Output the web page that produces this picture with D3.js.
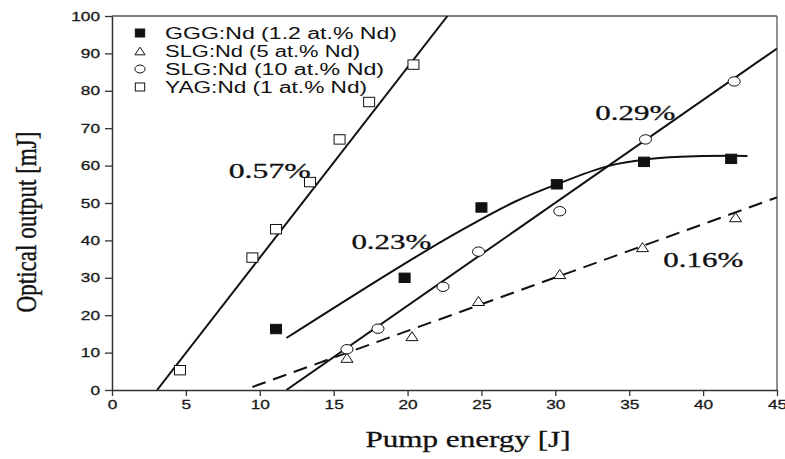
<!DOCTYPE html>
<html>
<head>
<meta charset="utf-8">
<script src="https://cdn.jsdelivr.net/npm/d3@7"></script>
<style>
  body { margin: 0; background: #fff; }
  svg { display: block; }
  .tick text { font-family: "Liberation Sans", Arial, sans-serif; font-size: 12.5px; fill: #1a1a1a; }
</style>
</head>
<body>
<svg id="chart" width="785" height="459"></svg>
<script>
// ---- data ----
const xTicks = [0, 5, 10, 15, 20, 25, 30, 35, 40, 45];
const yTicks = [0, 10, 20, 30, 40, 50, 60, 70, 80, 90, 100];

const gggPts   = [[11.1, 16.3], [19.8, 30.0], [25.0, 48.8], [30.1, 55.0], [36.0, 61.0], [41.9, 61.8]];
const slg5Pts  = [[15.9, 8.6], [20.3, 14.4], [24.8, 23.8], [30.3, 31.0], [35.9, 38.2], [42.2, 46.2]];
const slg10Pts = [[15.9, 10.9], [18.0, 16.4], [22.4, 27.6], [24.8, 37.0], [30.3, 47.8], [36.1, 67.0], [42.1, 82.5]];
const yagPts   = [[4.6, 5.3], [9.5, 35.4], [11.1, 43.0], [13.4, 55.6], [15.4, 67.0], [17.4, 77.0], [20.4, 87.0]];

// fit lines / curve
const gggFit   = [[11.8, 13.9], [19.4, 32.8], [23.5, 42.4], [27.3, 50.4], [30.1, 55.0], [33.5, 59.8], [36.5, 61.8], [39.5, 62.5], [43, 62.6]];
const slg5Fit  = [[9.5, 0.8], [45, 51.5]];
const slg10Fit = [[11.8, 0], [45, 91.3]];
const yagFit   = [[3.05, 0], [22.7, 100]];

const legendItems = [
  { name: "GGG:Nd (1.2 at.% Nd)", shape: "fsquare", len: 232 },
  { name: "SLG:Nd (5 at.% Nd)",   shape: "triangle", len: 195 },
  { name: "SLG:Nd (10 at.% Nd)",  shape: "circle",   len: 219 },
  { name: "YAG:Nd (1 at.% Nd)",   shape: "square",   len: 202 }
];

const slopeLabels = [
  { text: "0.57%", x: 7.9,  y: 56.8, len: 82 },
  { text: "0.29%", x: 32.7, y: 72.3, len: 80 },
  { text: "0.23%", x: 16.2, y: 37.8, len: 80 },
  { text: "0.16%", x: 37.3, y: 33.0, len: 80 }
];

// ---- scales ----
const svg = d3.select("#chart");
const x = d3.scaleLinear().domain([0, 45]).range([112, 777]);
const y = d3.scaleLinear().domain([0, 100]).range([390, 16]);

svg.append("defs").append("clipPath").attr("id", "plot-clip")
  .append("rect")
  .attr("x", x(0)).attr("y", y(100))
  .attr("width", x(45) - x(0)).attr("height", y(0) - y(100));

// frame top / right
svg.append("line")
  .attr("x1", x(0)).attr("x2", x(45)).attr("y1", y(100)).attr("y2", y(100))
  .attr("stroke", "#555").attr("stroke-width", 1.3);
svg.append("line")
  .attr("x1", x(45)).attr("x2", x(45)).attr("y1", y(100)).attr("y2", y(0))
  .attr("stroke", "#555").attr("stroke-width", 1.3);

// axes
const xAxis = svg.append("g")
  .attr("transform", `translate(0,${y(0)})`)
  .call(d3.axisBottom(x).tickValues(xTicks).tickSize(6).tickPadding(4).tickSizeOuter(0));
const yAxis = svg.append("g")
  .attr("transform", `translate(${x(0)},0)`)
  .call(d3.axisLeft(y).tickValues(yTicks).tickSize(7).tickPadding(5).tickSizeOuter(0));

[xAxis, yAxis].forEach(ax => {
  ax.select(".domain").attr("stroke", "#333").attr("stroke-width", 1.5);
  ax.selectAll(".tick line").attr("stroke", "#333").attr("stroke-width", 1.3);
  // tick labels look stretched sideways in the reference
  ax.selectAll(".tick text")
    .attr("textLength", d => String(d).length * 9.6)
    .attr("lengthAdjust", "spacingAndGlyphs")
    .attr("stroke", "#1a1a1a").attr("stroke-width", 0.3);
});

// axis titles
svg.append("text")
  .attr("x", 468).attr("y", 447)
  .attr("text-anchor", "middle")
  .attr("font-family", "'Liberation Serif', 'Times New Roman', serif")
  .attr("font-size", 23)
  .attr("fill", "#111").attr("stroke", "#111").attr("stroke-width", 0.3)
  .attr("textLength", 205).attr("lengthAdjust", "spacingAndGlyphs")
  .text("Pump energy [J]");

svg.append("text")
  .attr("transform", "translate(36,222) rotate(-90) scale(1,1.35)")
  .attr("text-anchor", "middle")
  .attr("font-family", "'Liberation Serif', 'Times New Roman', serif")
  .attr("font-size", 22)
  .attr("fill", "#111").attr("stroke", "#111").attr("stroke-width", 0.3)
  .attr("textLength", 181).attr("lengthAdjust", "spacingAndGlyphs")
  .text("Optical output [mJ]");

// fit lines
const plot = svg.append("g").attr("clip-path", "url(#plot-clip)");
const line = d3.line().x(d => x(d[0])).y(d => y(d[1]));
const curve = d3.line().x(d => x(d[0])).y(d => y(d[1])).curve(d3.curveCatmullRom.alpha(0.5));

plot.append("path").datum(yagFit).attr("d", line)
  .attr("fill", "none").attr("stroke", "#111").attr("stroke-width", 2);
plot.append("path").datum(slg10Fit).attr("d", line)
  .attr("fill", "none").attr("stroke", "#111").attr("stroke-width", 2);
plot.append("path").datum(slg5Fit).attr("d", line)
  .attr("fill", "none").attr("stroke", "#111").attr("stroke-width", 2)
  .attr("stroke-dasharray", "14,8");
plot.append("path").datum(gggFit).attr("d", curve)
  .attr("fill", "none").attr("stroke", "#111").attr("stroke-width", 2);

// markers
function drawMarker(g, shape, cx, cy, s) {
  if (shape === "fsquare" || shape === "square") {
    g.append("rect")
      .attr("x", cx - s * 0.55).attr("y", cy - s * 0.47)
      .attr("width", s * 1.1).attr("height", s * 0.94)
      .attr("fill", shape === "fsquare" ? "#111" : "#fff")
      .attr("stroke", "#111").attr("stroke-width", 1);
  } else if (shape === "circle") {
    g.append("ellipse")
      .attr("cx", cx).attr("cy", cy).attr("rx", s * 0.6).attr("ry", s * 0.47)
      .attr("fill", "#fff").attr("stroke", "#111").attr("stroke-width", 1);
  } else {
    const w = s * 0.6, h = s * 0.45;
    g.append("path")
      .attr("d", `M${cx - w},${cy + h}L${cx},${cy - h}L${cx + w},${cy + h}Z`)
      .attr("fill", "#fff").attr("stroke", "#111").attr("stroke-width", 1);
  }
}

const marks = svg.append("g");
gggPts.forEach(d => drawMarker(marks, "fsquare", x(d[0]), y(d[1]), 10));
slg5Pts.forEach(d => drawMarker(marks, "triangle", x(d[0]), y(d[1]), 10));
slg10Pts.forEach(d => drawMarker(marks, "circle", x(d[0]), y(d[1]), 10));
yagPts.forEach(d => drawMarker(marks, "square", x(d[0]), y(d[1]), 10));

// slope labels
svg.append("g").selectAll("text")
  .data(slopeLabels)
  .enter()
  .append("text")
  .attr("x", d => x(d.x)).attr("y", d => y(d.y))
  .attr("font-family", "'Liberation Serif', 'Times New Roman', serif")
  .attr("font-size", 20)
  .attr("fill", "#111").attr("stroke", "#111").attr("stroke-width", 0.3)
  .attr("textLength", d => d.len).attr("lengthAdjust", "spacingAndGlyphs")
  .text(d => d.text);

// legend
const legend = svg.append("g");
legendItems.forEach((item, i) => {
  const ly = 33 + i * 18;
  drawMarker(legend, item.shape, 140, ly, 8.5);
  legend.append("text")
    .attr("x", 165).attr("y", ly + 5.5)
    .attr("font-family", "'Liberation Sans', Arial, sans-serif")
    .attr("font-size", 16)
    .attr("fill", "#111")
    .attr("textLength", item.len).attr("lengthAdjust", "spacingAndGlyphs")
    .text(item.name);
});
</script>
</body>
</html>
